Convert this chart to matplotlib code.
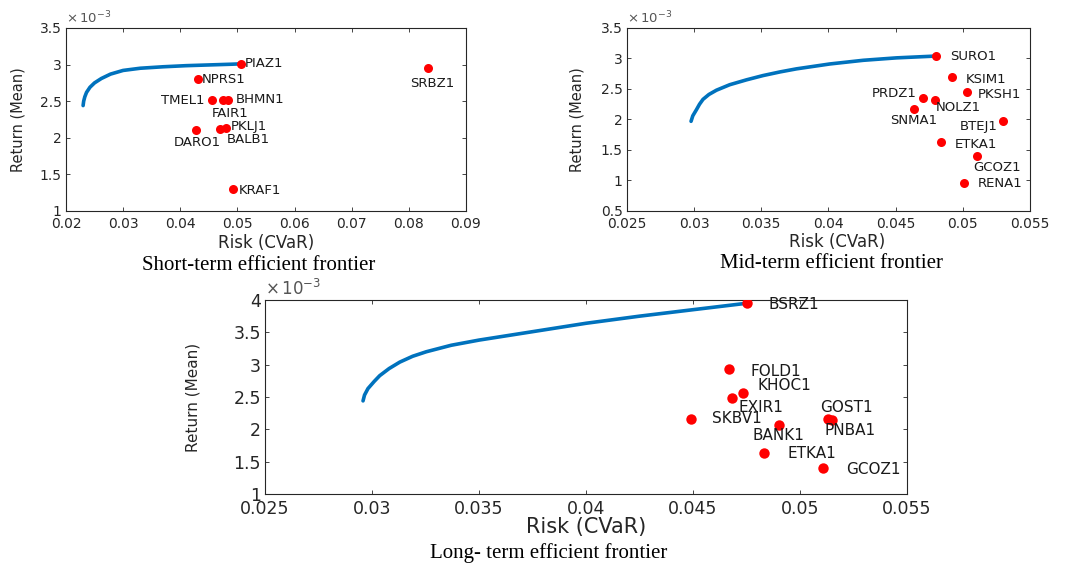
import numpy as np
import matplotlib
matplotlib.use('Agg')
import matplotlib.pyplot as plt
from matplotlib.ticker import FuncFormatter

# ---- short-term data (returns in units of 1e-3) ----
short_curve_x = [0.0230, 0.0231, 0.0233, 0.0236, 0.0242, 0.0250, 0.0262, 0.0278, 0.0300,
                 0.0330, 0.0370, 0.0410, 0.0450, 0.0490, 0.0506]
short_curve_y = [2.44, 2.50, 2.56, 2.62, 2.69, 2.75, 2.81, 2.87, 2.92,
                 2.95, 2.97, 2.985, 2.995, 3.005, 3.01]
short_names = ['PIAZ1', 'NPRS1', 'TMEL1', 'FAIR1', 'BHMN1', 'DARO1', 'BALB1', 'PKLJ1', 'KRAF1', 'SRBZ1']
short_risk = [0.0506, 0.0431, 0.0455, 0.0475, 0.0484, 0.0427, 0.0469, 0.0480, 0.0493, 0.0834]
short_ret = [3.01, 2.80, 2.51, 2.51, 2.52, 2.11, 2.12, 2.14, 1.30, 2.95]

# ---- mid-term data ----
mid_curve_x = [0.02977, 0.0299, 0.03017, 0.0304, 0.03066, 0.0311, 0.03166, 0.03265, 0.0339,
               0.03513, 0.0364, 0.03762, 0.0401, 0.04258, 0.04506, 0.04803]
mid_curve_y = [1.97, 2.06, 2.16, 2.25, 2.33, 2.41, 2.48, 2.57, 2.65,
               2.72, 2.78, 2.83, 2.91, 2.97, 3.01, 3.04]
mid_names = ['SURO1', 'KSIM1', 'PKSH1', 'PRDZ1', 'NOLZ1', 'SNMA1', 'BTEJ1', 'ETKA1', 'GCOZ1', 'RENA1']
mid_risk = [0.04803, 0.04917, 0.0503, 0.04704, 0.04793, 0.04637, 0.0530, 0.04835, 0.05109, 0.0501]
mid_ret = [3.04, 2.69, 2.445, 2.35, 2.325, 2.175, 1.97, 1.63, 1.40, 0.96]

# ---- long-term data ----
long_curve_x = [0.02958, 0.02965, 0.02981, 0.0301, 0.03036, 0.0308, 0.0313, 0.0319, 0.03254,
                0.0337, 0.0350, 0.0375, 0.0400, 0.0425, 0.0450, 0.04752]
long_curve_y = [2.44, 2.53, 2.63, 2.74, 2.83, 2.94, 3.04, 3.13, 3.20,
                3.30, 3.38, 3.51, 3.64, 3.75, 3.85, 3.95]
long_names = ['BSRZ1', 'FOLD1', 'KHOC1', 'EXIR1', 'SKBV1', 'BANK1', 'GOST1', 'PNBA1', 'ETKA1', 'GCOZ1']
long_risk = [0.04752, 0.04666, 0.04734, 0.04682, 0.04491, 0.0490, 0.0513, 0.0515, 0.04833, 0.05108]
long_ret = [3.95, 2.93, 2.56, 2.48, 2.166, 2.06, 2.16, 2.14, 1.633, 1.407]

# label offsets in pixels (dx, dy, ha)
short_off = {'PIAZ1': (4, 0, 'left'), 'NPRS1': (4, 0, 'left'), 'TMEL1': (-7, 0, 'right'),
             'FAIR1': (7, -13, 'center'), 'BHMN1': (7, 0, 'left'), 'DARO1': (2, -13, 'center'),
             'BALB1': (7, -10, 'left'), 'PKLJ1': (5, 1, 'left'), 'KRAF1': (5, -1, 'left'),
             'SRBZ1': (4, -15, 'center')}
mid_off = {'SURO1': (14, 0, 'left'), 'KSIM1': (14, -2, 'left'), 'PKSH1': (11, -2, 'left'),
           'PRDZ1': (-6, 5, 'right'), 'NOLZ1': (1, -8, 'left'), 'SNMA1': (0, -12, 'center'),
           'BTEJ1': (-5, -5, 'right'), 'ETKA1': (14, -2, 'left'), 'GCOZ1': (20, -11, 'center'),
           'RENA1': (14, -1, 'left')}
long_off = {'BSRZ1': (22, -1, 'left'), 'FOLD1': (22, -2, 'left'), 'KHOC1': (14, 8, 'left'),
            'EXIR1': (7, -9, 'left'), 'SKBV1': (21, 0, 'left'), 'BANK1': (0, -10, 'center'),
            'GOST1': (-8, 11, 'left'), 'PNBA1': (-8, -10, 'left'), 'ETKA1': (23, 0, 'left'),
            'GCOZ1': (23, -2, 'left')}

GRAY = '#262626'
BLUE = '#0072BD'
PX = 0.72  # pixels -> points at dpi 100

fig = plt.figure(figsize=(10.69, 5.64), dpi=100)


def panel(rect, cx, cy, names, rx, ry, offs, xlim, ylim, xticks, yticks, fs, lfs, xl, yl, ms,
          ylab_x, xlab_y, xlab_x=0.5):
    ax = fig.add_axes(rect)
    ax.plot(cx, cy, color=BLUE, lw=2.6, solid_capstyle='round')
    ax.plot(rx, ry, 'o', color='#FF0000', ms=ms, mec='none', zorder=3)
    for n, x, y in zip(names, rx, ry):
        dx, dy, ha = offs[n]
        ax.annotate(n, (x, y), xytext=(dx * PX, dy * PX), textcoords='offset points',
                    ha=ha, va='center', fontsize=lfs, color='#1a1a1a')
    ax.set_xlim(xlim)
    ax.set_ylim(ylim)
    ax.set_xticks(xticks)
    ax.set_yticks(yticks)
    ax.xaxis.set_major_formatter(FuncFormatter(lambda v, p: '%g' % round(v, 4)))
    ax.yaxis.set_major_formatter(FuncFormatter(lambda v, p: '%g' % round(v, 4)))
    ax.tick_params(direction='in', top=True, right=True, length=3, width=0.6,
                   labelsize=fs, colors=GRAY, pad=3)
    ax.tick_params(axis='x', pad=4.5)
    for s in ax.spines.values():
        s.set_color(GRAY)
        s.set_linewidth(0.8)
    ax.text(0.0, 1.025, r'$\times\,10^{-3}$', transform=ax.transAxes, fontsize=fs - 0.5,
            color='#555555', ha='left', va='baseline')
    ax.text(ylab_x, 0.5, 'Return (Mean)', transform=ax.transAxes, rotation=90,
            ha='center', va='center', fontsize=yl, color=GRAY)
    ax.text(xlab_x, xlab_y, 'Risk (CVaR)', transform=ax.transAxes,
            ha='center', va='center', fontsize=xl, color=GRAY)
    return ax


panel([0.0617, 0.6259, 0.3742, 0.3245], short_curve_x, short_curve_y, short_names,
      short_risk, short_ret, short_off, (0.02, 0.09), (1, 3.5),
      np.arange(0.02, 0.0901, 0.01), np.arange(1, 3.51, 0.5), 10, 9.5, 12, 10.5, 6.5,
      -0.12, -0.175)

panel([0.5865, 0.6259, 0.3770, 0.3245], mid_curve_x, mid_curve_y, mid_names,
      mid_risk, mid_ret, mid_off, (0.025, 0.055), (0.5, 3.5),
      np.arange(0.025, 0.0551, 0.005), np.arange(0.5, 3.51, 0.5), 10, 9.5, 12, 10.5, 6.5,
      -0.124, -0.17, 0.522)

panel([0.2479, 0.1241, 0.6006, 0.3440], long_curve_x, long_curve_y, long_names,
      long_risk, long_ret, long_off, (0.025, 0.055), (1, 4),
      np.arange(0.025, 0.0551, 0.005), np.arange(1, 4.01, 0.5), 12.5, 11, 15, 11, 7.5,
      -0.112, -0.17)

cap = dict(fontsize=15, family='Liberation Serif', ha='center', va='center', color='black')
fig.text(259 / 1069, 1 - 265 / 564, 'Short-term efficient frontier', **cap)
fig.text(832 / 1069, 1 - 264 / 564, 'Mid-term efficient frontier', **cap)
fig.text(549 / 1069, 1 - 553 / 564, 'Long- term efficient frontier', **cap)

fig.savefig('out.png', dpi=100)
